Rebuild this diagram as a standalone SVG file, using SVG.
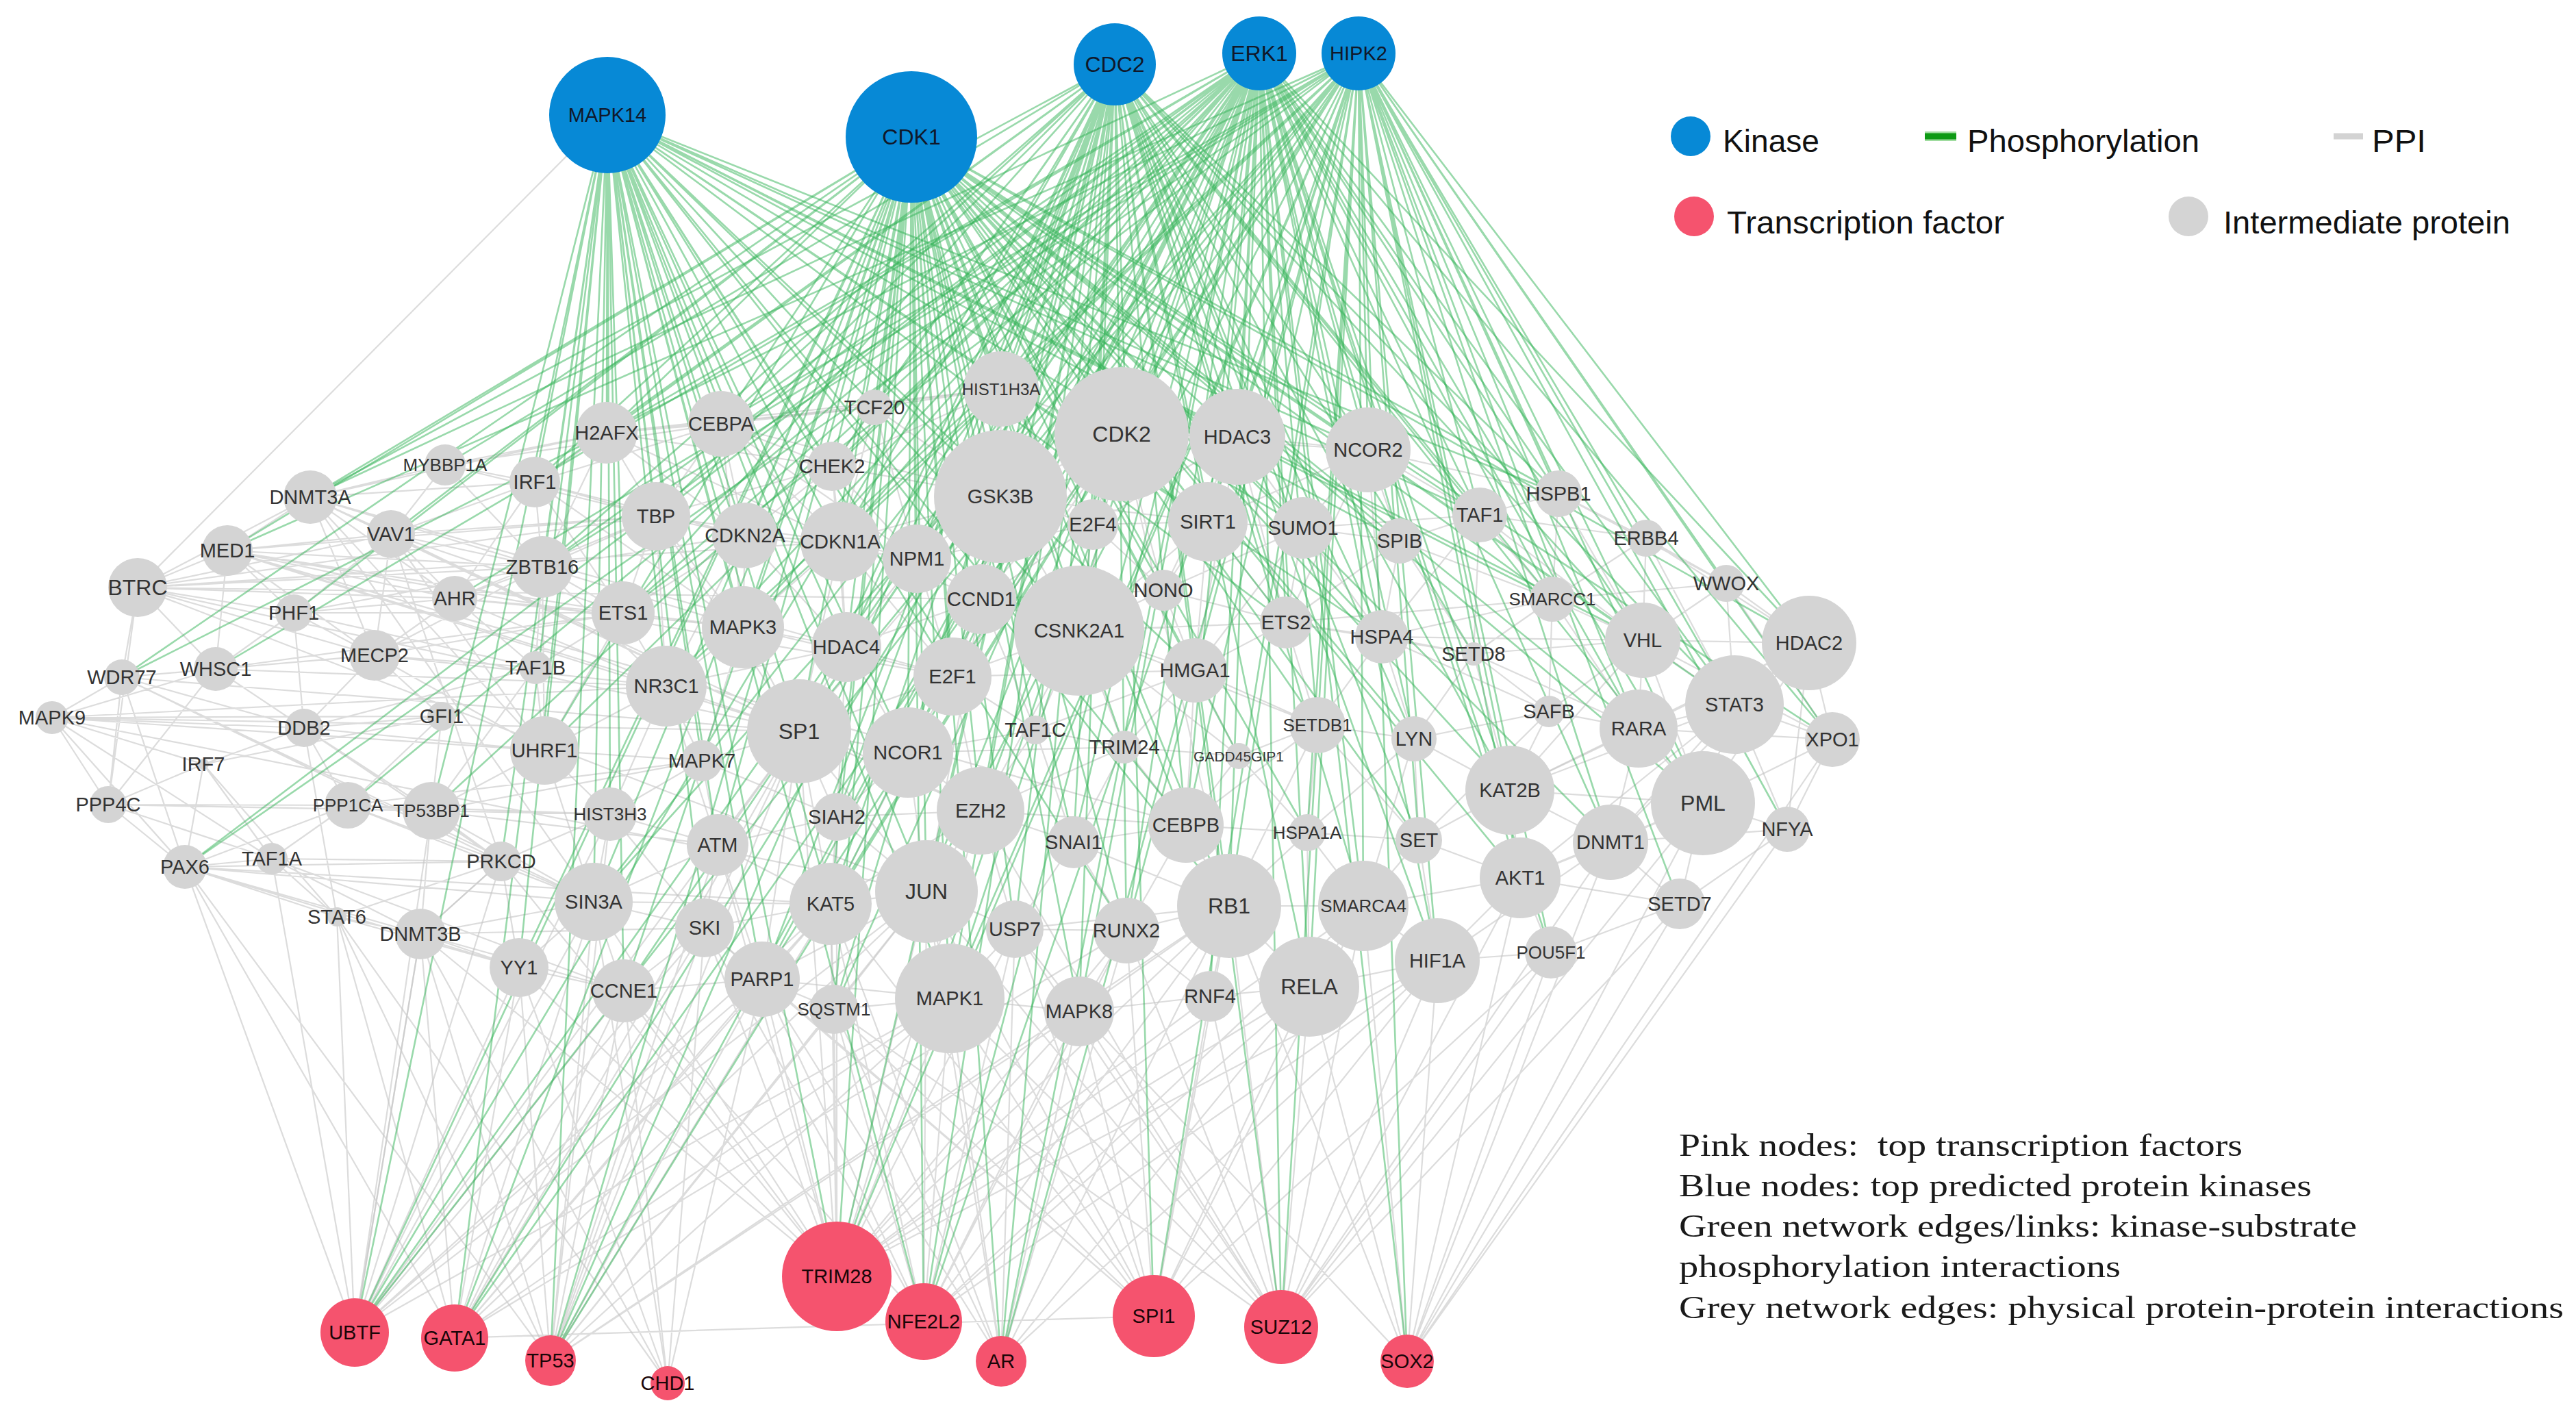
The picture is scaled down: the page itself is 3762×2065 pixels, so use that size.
<svg xmlns="http://www.w3.org/2000/svg" width="3762" height="2065" viewBox="0 0 3762 2065">
<style>
.pp{fill:none;stroke:#c4c4c4;stroke-opacity:.6;stroke-width:2.2}
.ph{fill:none;stroke:#33b357;stroke-opacity:.5;stroke-width:2.6}
#nodes text{font-family:"Liberation Sans",Arial,sans-serif;font-size:29px;text-anchor:middle;dominant-baseline:central;fill:#333}
.k circle{fill:#0789d6}.k text{fill:#10182a!important}
.t circle{fill:#f5536e}.t text{fill:#1a0508!important}
.i circle{fill:#d4d4d4}
#nodes .a{font-size:24px}#nodes .b{font-size:21px}#nodes .c{font-size:26px}#nodes .d{font-size:32px}
.lg{font-family:"Liberation Sans",Arial,sans-serif;font-size:47px;fill:#111}
.nt{font-family:"Liberation Serif","Times New Roman",serif;font-size:46px;fill:#1a1a1a;white-space:pre}
</style>
<rect width="3762" height="2065" fill="#fff"/>
<g id="connectors">
<path class="pp" d="M201 858L332 804M201 858L453 726M201 858L178 989M201 858L315 977M201 858L429 895M201 858L547 957M201 858L571 780M201 858L664 874M201 858L958 754M201 858L792 828M201 858L1227 791M201 858L1353 1302M201 858L1167 1068M201 858L1433 875M201 858L158 1175M201 858L887 168M332 804L453 726M332 804L571 780M332 804L429 895M332 804L315 977M332 804L547 957M332 804L664 874M332 804L792 828M332 804L973 1002M332 804L1167 1068M332 804L958 754M332 804L1391 988M332 804L910 895M332 804L1732 1205M453 726L650 679M453 726L571 780M453 726L781 704M453 726L664 874M453 726L792 828M453 726L547 957M453 726L886 632M453 726L1167 1068M453 726L1236 945M453 726L795 1096M453 726L1432 1184M453 726L867 1317M650 679L781 704M650 679L571 780M650 679L886 632M650 679L792 828M650 679L958 754M650 679L1053 619M571 780L664 874M571 780L792 828M571 780L429 895M571 780L547 957M571 780L781 704M571 780L910 895M571 780L958 754M571 780L1167 1068M571 780L795 1096M571 780L732 1258M429 895L547 957M429 895L315 977M429 895L664 874M429 895L792 828M429 895L444 1063M429 895L782 975M429 895L910 895M315 977L178 989M315 977L547 957M315 977L444 1063M315 977L76 1048M315 977L158 1175M315 977L973 1002M315 977L910 895M178 989L76 1048M178 989L158 1175M178 989L444 1063M178 989L547 957M178 989L270 1266M178 989L1167 1068M178 989L732 1258M178 989L867 1317M76 1048L444 1063M76 1048L158 1175M76 1048L645 1046M76 1048L973 1002M76 1048L297 1116M76 1048L270 1266M76 1048L397 1254M76 1048L1167 1068M76 1048L795 1096M76 1048L1353 1302M444 1063L645 1046M444 1063L297 1116M444 1063L547 957M444 1063L782 975M444 1063L795 1096M444 1063L508 1176M444 1063L630 1184M444 1063L732 1258M444 1063L492 1339M297 1116L158 1175M297 1116L270 1266M297 1116L397 1254M297 1116L645 1046M297 1116L492 1339M158 1175L270 1266M158 1175L508 1176M158 1175L397 1254M158 1175L630 1184M158 1175L891 1189M270 1266L397 1254M270 1266L508 1176M270 1266L732 1258M270 1266L492 1339M270 1266L614 1364M270 1266L867 1317M270 1266L758 1413M270 1266L1213 1320M270 1266L518 1946M270 1266L664 1954M270 1266L804 1987M397 1254L508 1176M397 1254L492 1339M397 1254L614 1364M397 1254L732 1258M397 1254L911 1447M397 1254L518 1946M492 1339L614 1364M492 1339L732 1258M492 1339L758 1413M492 1339L518 1946M492 1339L664 1954M492 1339L804 1987M492 1339L975 2020M614 1364L732 1258M614 1364L758 1413M614 1364L867 1317M614 1364L1029 1355M614 1364L911 1447M614 1364L630 1184M614 1364L518 1946M614 1364L664 1954M508 1176L630 1184M508 1176L645 1046M508 1176L732 1258M508 1176L891 1189M508 1176L867 1317M508 1176L1025 1111M630 1184L891 1189M630 1184L795 1096M630 1184L732 1258M630 1184L867 1317M630 1184L1048 1234M630 1184L645 1046M630 1184L1025 1111M630 1184L782 975M547 957L664 874M547 957L782 975M547 957L645 1046M547 957L795 1096M547 957L910 895M547 957L973 1002M547 957L792 828M664 874L792 828M664 874L782 975M664 874L910 895M664 874L781 704M664 874L958 754M664 874L973 1002M664 874L1085 916M781 704L792 828M781 704L886 632M781 704L958 754M781 704L910 895M781 704L1053 619M781 704L1088 782M781 704L1085 916M886 632L1053 619M886 632L958 754M886 632L792 828M886 632L1215 681M886 632L1277 595M886 632L1088 782M886 632L1227 791M886 632L1462 568M792 828L958 754M792 828L910 895M792 828L782 975M792 828L795 1096M792 828L973 1002M792 828L1085 916M792 828L1088 782M958 754L1053 619M958 754L1088 782M958 754L910 895M958 754L1085 916M958 754L1227 791M958 754L973 1002M958 754L1167 1068M958 754L1215 681"/>
<path class="pp" d="M1053 619L1215 681M1053 619L1277 595M1053 619L1088 782M1053 619L1227 791M1053 619L1462 568M1053 619L1339 816M1053 619L1085 916M1053 619L1461 725M1277 595L1215 681M1277 595L1462 568M1277 595L1227 791M1277 595L1461 725M1277 595L1339 816M1215 681L1227 791M1215 681L1462 568M1215 681L1461 725M1215 681L1339 816M1215 681L1088 782M1215 681L1236 945M1462 568L1461 725M1462 568L1638 634M1462 568L1596 766M1462 568L1339 816M1462 568L1433 875M1461 725L1638 634M1461 725L1596 766M1461 725L1433 875M1461 725L1339 816M1461 725L1227 791M1461 725L1576 921M1461 725L1807 638M1461 725L1764 762M1461 725L1391 988M1461 725L1353 1302M1461 725L1167 1068M1638 634L1807 638M1638 634L1764 762M1638 634L1596 766M1638 634L1576 921M1638 634L1699 862M1638 634L1433 875M1638 634L1998 657M1638 634L1391 988M1638 634L1795 1323M1807 638L1998 657M1807 638L1764 762M1807 638L1903 771M1807 638L1596 766M1807 638L1699 862M1807 638L1745 979M1807 638L1878 909M1998 657L1903 771M1998 657L2161 752M1998 657L2044 790M1998 657L2276 721M1998 657L1878 909M1998 657L2018 930M1998 657L1764 762M2161 752L2276 721M2161 752L2044 790M2161 752L2404 786M2161 752L2267 875M2161 752L1903 771M2161 752L2018 930M2161 752L2399 935M2161 752L2152 955M2276 721L2404 786M2276 721L2267 875M2276 721L2521 852M2276 721L2399 935M2404 786L2521 852M2404 786L2267 875M2404 786L2399 935M2404 786L2642 939M2404 786L2533 1029M2521 852L2642 939M2521 852L2399 935M2521 852L2533 1029M2521 852L2676 1080M2521 852L2267 875M2267 875L2399 935M2267 875L2018 930M2267 875L2152 955M2267 875L1878 909M2267 875L2044 790M2267 875L2262 1039M2267 875L2393 1064M2044 790L1903 771M2044 790L2018 930M2044 790L1878 909M2044 790L2152 955M1903 771L1764 762M1903 771L1878 909M1903 771L2018 930M1903 771L1745 979M1903 771L1699 862M1764 762L1596 766M1764 762L1699 862M1764 762L1745 979M1764 762L1878 909M1764 762L1576 921M1596 766L1339 816M1596 766L1433 875M1596 766L1576 921M1596 766L1699 862M1339 816L1227 791M1339 816L1433 875M1339 816L1088 782M1339 816L1236 945M1339 816L1391 988M1339 816L1576 921M1227 791L1088 782M1227 791L1236 945M1227 791L1085 916M1227 791L1433 875M1227 791L1391 988M1227 791L1167 1068M1088 782L1085 916M1088 782L1236 945M1088 782L910 895M1088 782L973 1002M1433 875L1576 921M1433 875L1391 988M1433 875L1236 945M1433 875L1699 862M1433 875L1512 1066M1576 921L1699 862M1576 921L1745 979M1576 921L1391 988M1576 921L1512 1066M1576 921L1642 1091M1576 921L1432 1184M1576 921L1878 909M1576 921L1924 1059M1576 921L1809 1104M1699 862L1745 979M1699 862L1878 909M910 895L1085 916M910 895L973 1002M910 895L782 975M910 895L795 1096M1085 916L1236 945M1085 916L973 1002M1085 916L1167 1068M1085 916L1025 1111M1085 916L1391 988M1878 909L2018 930M1878 909L1745 979M1878 909L2152 955M1878 909L1924 1059M2018 930L2152 955M2018 930L2399 935M2018 930L2262 1039M2018 930L2065 1079M2018 930L1924 1059M2399 935L2642 939M2399 935L2533 1029M2399 935L2393 1064M2399 935L2152 955M2399 935L2262 1039M2399 935L2205 1154M2399 935L2487 1173M2399 935L2676 1080M2642 939L2533 1029M2642 939L2676 1080M2642 939L2487 1173M2642 939L2393 1064M2642 939L2610 1211M2642 939L2205 1154M2642 939L2352 1230M2152 955L2262 1039M2152 955L2393 1064M2152 955L2065 1079M2152 955L2205 1154M1236 945L1391 988M1236 945L1167 1068M1236 945L1326 1099M1236 945L973 1002M1236 945L1222 1193M1391 988L1167 1068M1391 988L1326 1099M1391 988L1512 1066M1391 988L1432 1184M1391 988L1745 979M1745 979L1512 1066M1745 979L1642 1091M1745 979L1809 1104M1745 979L1924 1059M1745 979L1732 1205M973 1002L1167 1068M973 1002L795 1096M973 1002L1025 1111M973 1002L891 1189M973 1002L1048 1234M2533 1029L2393 1064M2533 1029L2676 1080M2533 1029L2487 1173M2533 1029L2205 1154M2533 1029L2610 1211M2533 1029L2352 1230M2533 1029L2220 1282M2262 1039L2393 1064M2262 1039L2065 1079M2262 1039L2205 1154M2262 1039L2072 1227"/>
<path class="pp" d="M1167 1068L1326 1099M1167 1068L1025 1111M1167 1068L1222 1193M1167 1068L1048 1234M1167 1068L1213 1320M1167 1068L1353 1302M1167 1068L1432 1184M1167 1068L1029 1355M1167 1068L1113 1430M1512 1066L1326 1099M1512 1066L1642 1091M1512 1066L1432 1184M1512 1066L1568 1230M2393 1064L2487 1173M2393 1064L2205 1154M2393 1064L2352 1230M2393 1064L2676 1080M2676 1080L2487 1173M2676 1080L2610 1211M1924 1059L2065 1079M1924 1059L1809 1104M1924 1059L1909 1216M1924 1059L1732 1205M1924 1059L1795 1323M1924 1059L2072 1227M2065 1079L2072 1227M2065 1079L2205 1154M2065 1079L1909 1216M2065 1079L1991 1323M1326 1099L1432 1184M1326 1099L1222 1193M1326 1099L1213 1320M1326 1099L1353 1302M1326 1099L1642 1091M1642 1091L1809 1104M1642 1091L1732 1205M1642 1091L1568 1230M1642 1091L1432 1184M1809 1104L1732 1205M1809 1104L1909 1216M795 1096L891 1189M795 1096L1025 1111M795 1096L867 1317M795 1096L782 975M1025 1111L891 1189M1025 1111L1048 1234M1025 1111L1222 1193M891 1189L1048 1234M891 1189L867 1317M891 1189L1029 1355M891 1189L732 1258M1222 1193L1432 1184M1222 1193L1048 1234M1222 1193L1213 1320M1222 1193L1353 1302M1432 1184L1568 1230M1432 1184L1353 1302M1432 1184L1482 1357M1432 1184L1213 1320M1432 1184L1732 1205M2205 1154L2487 1173M2205 1154L2352 1230M2205 1154L2220 1282M2205 1154L2072 1227M2487 1173L2610 1211M2487 1173L2352 1230M2487 1173L2220 1282M2487 1173L2453 1320M2610 1211L2352 1230M2610 1211L2453 1320M1732 1205L1568 1230M1732 1205L1795 1323M1732 1205L1645 1359M1732 1205L1909 1216M1048 1234L1029 1355M1048 1234L867 1317M1048 1234L1213 1320M1048 1234L1113 1430M1568 1230L1482 1357M1568 1230L1645 1359M1568 1230L1795 1323M1909 1216L2072 1227M1909 1216L1991 1323M1909 1216L1795 1323M1909 1216L1912 1441M2072 1227L2220 1282M2072 1227L1991 1323M2072 1227L2099 1403M2352 1230L2220 1282M2352 1230L2453 1320M2352 1230L2099 1403M732 1258L867 1317M732 1258L758 1413M732 1258L614 1364M2220 1282L2453 1320M2220 1282L2265 1391M2220 1282L2099 1403M2220 1282L1991 1323M867 1317L758 1413M867 1317L1029 1355M867 1317L911 1447M867 1317L1213 1320M1213 1320L1353 1302M1213 1320L1029 1355M1213 1320L1113 1430M1213 1320L1218 1474M1353 1302L1482 1357M1353 1302L1387 1458M1353 1302L1113 1430M1353 1302L1218 1474M1991 1323L1795 1323M1991 1323L1912 1441M1991 1323L2099 1403M1795 1323L1645 1359M1795 1323L1767 1455M1795 1323L1912 1441M1795 1323L1482 1357M1795 1323L1576 1477M1029 1355L911 1447M1029 1355L1113 1430M1482 1357L1645 1359M1482 1357L1387 1458M1482 1357L1576 1477M1645 1359L1576 1477M1645 1359L1767 1455M2453 1320L2265 1391M758 1413L911 1447M2099 1403L2265 1391M2099 1403L1912 1441M911 1447L1113 1430M1113 1430L1218 1474M1113 1430L1387 1458M1218 1474L1387 1458M1387 1458L1576 1477M1576 1477L1767 1455M1767 1455L1912 1441"/>
<path class="pp" d="M518 1946L758 1413M518 1946L911 1447M518 1946L867 1317M518 1946L614 1364M518 1946L891 1189M518 1946L1167 1068M518 1946L1353 1302M518 1946L1387 1458M518 1946L1113 1430M518 1946L1029 1355M518 1946L630 1184M518 1946L732 1258M518 1946L1213 1320M664 1954L758 1413M664 1954L911 1447M664 1954L867 1317M664 1954L1167 1068M664 1954L1353 1302M664 1954L1387 1458M664 1954L1029 1355M664 1954L1213 1320M664 1954L1685 1922M664 1954L1645 1359M664 1954L1113 1430M804 1987L758 1413M804 1987L911 1447M804 1987L867 1317M804 1987L1029 1355M804 1987L1113 1430M804 1987L1213 1320M804 1987L1353 1302M804 1987L1387 1458M804 1987L1218 1474M804 1987L614 1364M804 1987L891 1189M804 1987L1048 1234M804 1987L1167 1068M804 1987L1576 1477M804 1987L1795 1323M975 2020L911 1447M975 2020L1113 1430M975 2020L1029 1355M975 2020L867 1317M975 2020L758 1413M975 2020L614 1364M1222 1864L1353 1302M1222 1864L1387 1458M1222 1864L1213 1320M1222 1864L1113 1430M1222 1864L1218 1474M1222 1864L1029 1355M1222 1864L911 1447M1222 1864L758 1413M1222 1864L867 1317M1222 1864L1048 1234M1222 1864L1222 1193M1222 1864L1432 1184M1222 1864L1167 1068M1222 1864L1482 1357M1222 1864L1576 1477M1222 1864L1645 1359M1222 1864L1795 1323M1222 1864L1767 1455M1222 1864L1912 1441M1222 1864L1991 1323M1222 1864L2099 1403M1222 1864L614 1364M1222 1864L732 1258M1349 1930L1353 1302M1349 1930L1387 1458M1349 1930L1576 1477M1349 1930L1482 1357M1349 1930L1645 1359M1349 1930L1795 1323M1349 1930L1912 1441M1349 1930L1213 1320M1349 1930L1113 1430M1349 1930L1218 1474M1349 1930L1029 1355M1349 1930L911 1447M1349 1930L2099 1403M1349 1930L1991 1323M1462 1988L1387 1458M1462 1988L1353 1302M1462 1988L1576 1477M1462 1988L1482 1357M1462 1988L1645 1359M1462 1988L1795 1323M1462 1988L1912 1441M1462 1988L1113 1430M1462 1988L1218 1474M1462 1988L1213 1320M1462 1988L2099 1403M1685 1922L1795 1323M1685 1922L1912 1441M1685 1922L1767 1455M1685 1922L1576 1477M1685 1922L1645 1359M1685 1922L1482 1357M1685 1922L1353 1302M1685 1922L1387 1458M1685 1922L2099 1403M1685 1922L1991 1323M1685 1922L2265 1391M1685 1922L1113 1430M1685 1922L1218 1474M1685 1922L1213 1320M1685 1922L1029 1355M1871 1938L1795 1323M1871 1938L1912 1441M1871 1938L1767 1455M1871 1938L1576 1477M1871 1938L1645 1359M1871 1938L2099 1403M1871 1938L1991 1323M1871 1938L2265 1391M1871 1938L2220 1282M1871 1938L2453 1320M1871 1938L1353 1302M1871 1938L1387 1458M1871 1938L1218 1474M1871 1938L1482 1357M1871 1938L1432 1184M1871 1938L2487 1173M1871 1938L2352 1230M2055 1988L1912 1441M2055 1988L2099 1403M2055 1988L2265 1391M2055 1988L2453 1320M2055 1988L2220 1282M2055 1988L1991 1323M2055 1988L2487 1173M2055 1988L2610 1211M2055 1988L2352 1230M2055 1988L1795 1323M2055 1988L1576 1477M2055 1988L2676 1080"/>
<path class="ph" d="M887 168L886 632M887 168L781 704M887 168L792 828M887 168L958 754M887 168L910 895M887 168L795 1096M887 168L891 1189M887 168L867 1317M887 168L758 1413M887 168L911 1447M887 168L518 1946M887 168L664 1954M887 168L804 1987M887 168L1085 916M887 168L973 1002M887 168L1053 619M887 168L1088 782M887 168L1227 791M887 168L1167 1068M887 168L1048 1234M887 168L1029 1355M887 168L1213 1320M887 168L1353 1302M887 168L1113 1430M887 168L1236 945M887 168L1391 988M887 168L1326 1099M887 168L1215 681M887 168L1461 725M887 168L1576 921M887 168L1807 638M887 168L1998 657M887 168L2161 752M887 168L2276 721M887 168L2044 790M887 168L1903 771M887 168L1764 762M887 168L1745 979M887 168L1878 909M887 168L1732 1205M887 168L1795 1323M887 168L1645 1359M887 168L1387 1458M887 168L1222 1864M887 168L1349 1930M887 168L2267 875M887 168L2399 935M887 168L2018 930M887 168L1025 1111M887 168L732 1258M887 168L630 1184"/>
<path class="ph" d="M1331 200L453 726M1331 200L332 804M1331 200L571 780M1331 200L429 895M1331 200L178 989M1331 200L781 704M1331 200L886 632M1331 200L1053 619M1331 200L1277 595M1331 200L1215 681M1331 200L1462 568M1331 200L1461 725M1331 200L1227 791M1331 200L1088 782M1331 200L1339 816M1331 200L1433 875M1331 200L1596 766M1331 200L1391 988M1331 200L1236 945M1331 200L1085 916M1331 200L1167 1068M1331 200L1326 1099M1331 200L1432 1184M1331 200L1353 1302M1331 200L1213 1320M1331 200L1222 1193M1331 200L1048 1234M1331 200L1218 1474M1331 200L1387 1458M1331 200L1576 1477M1331 200L1482 1357M1331 200L1645 1359M1331 200L1795 1323M1331 200L1732 1205M1331 200L1568 1230M1331 200L1745 979M1331 200L1576 921M1331 200L1764 762M1331 200L1807 638M1331 200L1998 657M1331 200L1903 771M1331 200L2161 752M1331 200L2276 721M1331 200L2044 790M1331 200L1878 909M1331 200L2018 930M1331 200L2267 875M1331 200L2399 935M1331 200L2533 1029M1331 200L2642 939M1331 200L2487 1173M1331 200L2205 1154M1331 200L2220 1282M1331 200L2352 1230M1331 200L2393 1064M1331 200L2676 1080M1331 200L1222 1864M1331 200L1349 1930M1331 200L1462 1988M1331 200L518 1946M1331 200L664 1954M1331 200L804 1987M1331 200L911 1447M1331 200L758 1413M1331 200L867 1317M1331 200L795 1096M1331 200L1512 1066M1331 200L1642 1091M1331 200L1699 862M1331 200L1809 1104M1331 200L1924 1059M1331 200L2065 1079M1331 200L2072 1227M1331 200L1909 1216"/>
<path class="ph" d="M1628 94L453 726M1628 94L650 679M1628 94L781 704M1628 94L886 632M1628 94L1053 619M1628 94L958 754M1628 94L792 828M1628 94L910 895M1628 94L1277 595M1628 94L1215 681M1628 94L1462 568M1628 94L1461 725M1628 94L1227 791M1628 94L1339 816M1628 94L1596 766M1628 94L1391 988M1628 94L1433 875M1628 94L1236 945M1628 94L1167 1068M1628 94L1326 1099M1628 94L1432 1184M1628 94L1353 1302M1628 94L1222 1193M1628 94L1213 1320M1628 94L1387 1458M1628 94L1218 1474M1628 94L1113 1430M1628 94L1222 1864M1628 94L1462 1988M1628 94L1349 1930M1628 94L1482 1357M1628 94L1576 1477M1628 94L1645 1359M1628 94L1568 1230M1628 94L1732 1205M1628 94L1795 1323M1628 94L1807 638M1628 94L1764 762M1628 94L1998 657M1628 94L1903 771M1628 94L2161 752M1628 94L2276 721M1628 94L1878 909M1628 94L2018 930M1628 94L2267 875M1628 94L2399 935M1628 94L2533 1029M1628 94L2487 1173M1628 94L2205 1154M1628 94L2152 955M1628 94L2065 1079M1628 94L2072 1227M1628 94L1912 1441M1628 94L2099 1403M1628 94L1991 1323M1628 94L1685 1922M1628 94L1871 1938M1628 94L518 1946M1628 94L804 1987"/>
<path class="ph" d="M1839 78L453 726M1839 78L315 977M1839 78L270 1266M1839 78L508 1176M1839 78L886 632M1839 78L1053 619M1839 78L958 754M1839 78L792 828M1839 78L910 895M1839 78L1085 916M1839 78L973 1002M1839 78L795 1096M1839 78L630 1184M1839 78L867 1317M1839 78L911 1447M1839 78L518 1946M1839 78L664 1954M1839 78L804 1987M1839 78L1215 681M1839 78L1461 725M1839 78L1227 791M1839 78L1339 816M1839 78L1433 875M1839 78L1391 988M1839 78L1236 945M1839 78L1167 1068M1839 78L1326 1099M1839 78L1353 1302M1839 78L1387 1458M1839 78L1222 1864M1839 78L1349 1930M1839 78L1462 1988M1839 78L1432 1184M1839 78L1222 1193M1839 78L1213 1320M1839 78L1113 1430M1839 78L1218 1474M1839 78L1568 1230M1839 78L1576 1477M1839 78L1732 1205M1839 78L1645 1359M1839 78L1795 1323M1839 78L1767 1455M1839 78L1871 1938M1839 78L2055 1988M1839 78L1807 638M1839 78L1764 762M1839 78L1998 657M1839 78L2161 752M1839 78L2276 721M1839 78L2267 875M1839 78L2399 935M1839 78L2533 1029M1839 78L2642 939M1839 78L2676 1080M1839 78L2487 1173M1839 78L2205 1154M1839 78L2220 1282M1839 78L2393 1064M1839 78L2352 1230M1839 78L2018 930M1839 78L1878 909M1839 78L2044 790M1839 78L1924 1059M1839 78L2065 1079M1839 78L2099 1403M1839 78L2265 1391M1839 78L1912 1441M1839 78L1991 1323"/>
<path class="ph" d="M1984 78L178 989M1984 78L332 804M1984 78L664 874M1984 78L270 1266M1984 78L886 632M1984 78L1053 619M1984 78L792 828M1984 78L910 895M1984 78L1085 916M1984 78L973 1002M1984 78L867 1317M1984 78L664 1954M1984 78L804 1987M1984 78L518 1946M1984 78L1227 791M1984 78L1339 816M1984 78L1391 988M1984 78L1167 1068M1984 78L1353 1302M1984 78L1387 1458M1984 78L1222 1864M1984 78L1349 1930M1984 78L1462 1988M1984 78L1213 1320M1984 78L1113 1430M1984 78L1732 1205M1984 78L1795 1323M1984 78L1645 1359M1984 78L1685 1922M1984 78L1871 1938M1984 78L2055 1988M1984 78L1807 638M1984 78L1764 762M1984 78L1998 657M1984 78L2161 752M1984 78L2276 721M1984 78L2404 786M1984 78L2521 852M1984 78L2267 875M1984 78L2399 935M1984 78L2642 939M1984 78L2533 1029M1984 78L2676 1080M1984 78L2610 1211M1984 78L2487 1173M1984 78L2393 1064M1984 78L2352 1230M1984 78L2205 1154M1984 78L2220 1282M1984 78L2453 1320M1984 78L2072 1227M1984 78L1909 1216M1984 78L1991 1323M1984 78L2099 1403M1984 78L2265 1391M1984 78L1912 1441"/>
</g>
<g id="nodes">
<g id="MAPK14" class="k"><circle cx="887" cy="168" r="85"/><text x="887" y="168">MAPK14</text></g>
<g id="CDK1" class="k"><circle cx="1331" cy="200" r="96"/><text class="d" x="1331" y="200">CDK1</text></g>
<g id="CDC2" class="k"><circle cx="1628" cy="94" r="60"/><text class="d" x="1628" y="94">CDC2</text></g>
<g id="ERK1" class="k"><circle cx="1839" cy="78" r="54"/><text class="d" x="1839" y="78">ERK1</text></g>
<g id="HIPK2" class="k"><circle cx="1984" cy="78" r="54"/><text x="1984" y="78">HIPK2</text></g>
<g id="HIST1H3A" class="i"><circle cx="1462" cy="568" r="55"/><text class="a" x="1462" y="568">HIST1H3A</text></g>
<g id="TCF20" class="i"><circle cx="1277" cy="595" r="26"/><text x="1277" y="595">TCF20</text></g>
<g id="CDK2" class="i"><circle cx="1638" cy="634" r="98"/><text class="d" x="1638" y="634">CDK2</text></g>
<g id="HDAC3" class="i"><circle cx="1807" cy="638" r="70"/><text x="1807" y="638">HDAC3</text></g>
<g id="NCOR2" class="i"><circle cx="1998" cy="657" r="62"/><text x="1998" y="657">NCOR2</text></g>
<g id="H2AFX" class="i"><circle cx="886" cy="632" r="45"/><text x="886" y="632">H2AFX</text></g>
<g id="CEBPA" class="i"><circle cx="1053" cy="619" r="48"/><text x="1053" y="619">CEBPA</text></g>
<g id="CHEK2" class="i"><circle cx="1215" cy="681" r="36"/><text x="1215" y="681">CHEK2</text></g>
<g id="MYBBP1A" class="i"><circle cx="650" cy="679" r="30"/><text class="c" x="650" y="679">MYBBP1A</text></g>
<g id="DNMT3A" class="i"><circle cx="453" cy="726" r="39"/><text x="453" y="726">DNMT3A</text></g>
<g id="IRF1" class="i"><circle cx="781" cy="704" r="37"/><text x="781" y="704">IRF1</text></g>
<g id="GSK3B" class="i"><circle cx="1461" cy="725" r="97"/><text x="1461" y="725">GSK3B</text></g>
<g id="HSPB1" class="i"><circle cx="2276" cy="721" r="34"/><text x="2276" y="721">HSPB1</text></g>
<g id="TAF1" class="i"><circle cx="2161" cy="752" r="40"/><text x="2161" y="752">TAF1</text></g>
<g id="SIRT1" class="i"><circle cx="1764" cy="762" r="58"/><text x="1764" y="762">SIRT1</text></g>
<g id="SUMO1" class="i"><circle cx="1903" cy="771" r="45"/><text x="1903" y="771">SUMO1</text></g>
<g id="E2F4" class="i"><circle cx="1596" cy="766" r="37"/><text x="1596" y="766">E2F4</text></g>
<g id="SPIB" class="i"><circle cx="2044" cy="790" r="33"/><text x="2044" y="790">SPIB</text></g>
<g id="ERBB4" class="i"><circle cx="2404" cy="786" r="27"/><text x="2404" y="786">ERBB4</text></g>
<g id="TBP" class="i"><circle cx="958" cy="754" r="50"/><text x="958" y="754">TBP</text></g>
<g id="CDKN2A" class="i"><circle cx="1088" cy="782" r="48"/><text x="1088" y="782">CDKN2A</text></g>
<g id="CDKN1A" class="i"><circle cx="1227" cy="791" r="58"/><text x="1227" y="791">CDKN1A</text></g>
<g id="NPM1" class="i"><circle cx="1339" cy="816" r="50"/><text x="1339" y="816">NPM1</text></g>
<g id="VAV1" class="i"><circle cx="571" cy="780" r="35"/><text x="571" y="780">VAV1</text></g>
<g id="MED1" class="i"><circle cx="332" cy="804" r="37"/><text x="332" y="804">MED1</text></g>
<g id="ZBTB16" class="i"><circle cx="792" cy="828" r="45"/><text x="792" y="828">ZBTB16</text></g>
<g id="BTRC" class="i"><circle cx="201" cy="858" r="43"/><text class="d" x="201" y="858">BTRC</text></g>
<g id="WWOX" class="i"><circle cx="2521" cy="852" r="27"/><text x="2521" y="852">WWOX</text></g>
<g id="CCND1" class="i"><circle cx="1433" cy="875" r="51"/><text x="1433" y="875">CCND1</text></g>
<g id="NONO" class="i"><circle cx="1699" cy="862" r="30"/><text x="1699" y="862">NONO</text></g>
<g id="SMARCC1" class="i"><circle cx="2267" cy="875" r="33"/><text class="c" x="2267" y="875">SMARCC1</text></g>
<g id="CSNK2A1" class="i"><circle cx="1576" cy="921" r="95"/><text x="1576" y="921">CSNK2A1</text></g>
<g id="AHR" class="i"><circle cx="664" cy="874" r="33"/><text x="664" y="874">AHR</text></g>
<g id="PHF1" class="i"><circle cx="429" cy="895" r="27"/><text x="429" y="895">PHF1</text></g>
<g id="ETS1" class="i"><circle cx="910" cy="895" r="46"/><text x="910" y="895">ETS1</text></g>
<g id="MAPK3" class="i"><circle cx="1085" cy="916" r="60"/><text x="1085" y="916">MAPK3</text></g>
<g id="ETS2" class="i"><circle cx="1878" cy="909" r="38"/><text x="1878" y="909">ETS2</text></g>
<g id="HSPA4" class="i"><circle cx="2018" cy="930" r="39"/><text x="2018" y="930">HSPA4</text></g>
<g id="VHL" class="i"><circle cx="2399" cy="935" r="55"/><text x="2399" y="935">VHL</text></g>
<g id="HDAC2" class="i"><circle cx="2642" cy="939" r="69"/><text x="2642" y="939">HDAC2</text></g>
<g id="SETD8" class="i"><circle cx="2152" cy="955" r="17"/><text x="2152" y="955">SETD8</text></g>
<g id="MECP2" class="i"><circle cx="547" cy="957" r="37"/><text x="547" y="957">MECP2</text></g>
<g id="HDAC4" class="i"><circle cx="1236" cy="945" r="51"/><text x="1236" y="945">HDAC4</text></g>
<g id="WDR77" class="i"><circle cx="178" cy="989" r="26"/><text x="178" y="989">WDR77</text></g>
<g id="WHSC1" class="i"><circle cx="315" cy="977" r="32"/><text x="315" y="977">WHSC1</text></g>
<g id="TAF1B" class="i"><circle cx="782" cy="975" r="24"/><text x="782" y="975">TAF1B</text></g>
<g id="E2F1" class="i"><circle cx="1391" cy="988" r="57"/><text x="1391" y="988">E2F1</text></g>
<g id="HMGA1" class="i"><circle cx="1745" cy="979" r="47"/><text x="1745" y="979">HMGA1</text></g>
<g id="NR3C1" class="i"><circle cx="973" cy="1002" r="59"/><text x="973" y="1002">NR3C1</text></g>
<g id="STAT3" class="i"><circle cx="2533" cy="1029" r="72"/><text x="2533" y="1029">STAT3</text></g>
<g id="SAFB" class="i"><circle cx="2262" cy="1039" r="23"/><text x="2262" y="1039">SAFB</text></g>
<g id="MAPK9" class="i"><circle cx="76" cy="1048" r="24"/><text x="76" y="1048">MAPK9</text></g>
<g id="DDB2" class="i"><circle cx="444" cy="1063" r="28"/><text x="444" y="1063">DDB2</text></g>
<g id="GFI1" class="i"><circle cx="645" cy="1046" r="21"/><text x="645" y="1046">GFI1</text></g>
<g id="SP1" class="i"><circle cx="1167" cy="1068" r="76"/><text class="d" x="1167" y="1068">SP1</text></g>
<g id="TAF1C" class="i"><circle cx="1512" cy="1066" r="21"/><text x="1512" y="1066">TAF1C</text></g>
<g id="RARA" class="i"><circle cx="2393" cy="1064" r="57"/><text x="2393" y="1064">RARA</text></g>
<g id="XPO1" class="i"><circle cx="2676" cy="1080" r="40"/><text x="2676" y="1080">XPO1</text></g>
<g id="SETDB1" class="i"><circle cx="1924" cy="1059" r="41"/><text class="c" x="1924" y="1059">SETDB1</text></g>
<g id="LYN" class="i"><circle cx="2065" cy="1079" r="33"/><text x="2065" y="1079">LYN</text></g>
<g id="NCOR1" class="i"><circle cx="1326" cy="1099" r="66"/><text x="1326" y="1099">NCOR1</text></g>
<g id="TRIM24" class="i"><circle cx="1642" cy="1091" r="24"/><text x="1642" y="1091">TRIM24</text></g>
<g id="GADD45GIP1" class="i"><circle cx="1809" cy="1104" r="19"/><text class="b" x="1809" y="1104">GADD45GIP1</text></g>
<g id="UHRF1" class="i"><circle cx="795" cy="1096" r="50"/><text x="795" y="1096">UHRF1</text></g>
<g id="MAPK7" class="i"><circle cx="1025" cy="1111" r="30"/><text x="1025" y="1111">MAPK7</text></g>
<g id="IRF7" class="i"><circle cx="297" cy="1116" r="8"/><text x="297" y="1116">IRF7</text></g>
<g id="PPP4C" class="i"><circle cx="158" cy="1175" r="27"/><text x="158" y="1175">PPP4C</text></g>
<g id="PPP1CA" class="i"><circle cx="508" cy="1176" r="34"/><text class="c" x="508" y="1176">PPP1CA</text></g>
<g id="TP53BP1" class="i"><circle cx="630" cy="1184" r="42"/><text class="c" x="630" y="1184">TP53BP1</text></g>
<g id="HIST3H3" class="i"><circle cx="891" cy="1189" r="39"/><text class="c" x="891" y="1189">HIST3H3</text></g>
<g id="SIAH2" class="i"><circle cx="1222" cy="1193" r="35"/><text x="1222" y="1193">SIAH2</text></g>
<g id="EZH2" class="i"><circle cx="1432" cy="1184" r="64"/><text x="1432" y="1184">EZH2</text></g>
<g id="KAT2B" class="i"><circle cx="2205" cy="1154" r="65"/><text x="2205" y="1154">KAT2B</text></g>
<g id="PML" class="i"><circle cx="2487" cy="1173" r="76"/><text class="d" x="2487" y="1173">PML</text></g>
<g id="NFYA" class="i"><circle cx="2610" cy="1211" r="33"/><text x="2610" y="1211">NFYA</text></g>
<g id="CEBPB" class="i"><circle cx="1732" cy="1205" r="55"/><text x="1732" y="1205">CEBPB</text></g>
<g id="ATM" class="i"><circle cx="1048" cy="1234" r="45"/><text x="1048" y="1234">ATM</text></g>
<g id="SNAI1" class="i"><circle cx="1568" cy="1230" r="38"/><text x="1568" y="1230">SNAI1</text></g>
<g id="HSPA1A" class="i"><circle cx="1909" cy="1216" r="27"/><text class="c" x="1909" y="1216">HSPA1A</text></g>
<g id="SET" class="i"><circle cx="2072" cy="1227" r="34"/><text x="2072" y="1227">SET</text></g>
<g id="DNMT1" class="i"><circle cx="2352" cy="1230" r="55"/><text x="2352" y="1230">DNMT1</text></g>
<g id="PAX6" class="i"><circle cx="270" cy="1266" r="32"/><text x="270" y="1266">PAX6</text></g>
<g id="TAF1A" class="i"><circle cx="397" cy="1254" r="23"/><text x="397" y="1254">TAF1A</text></g>
<g id="PRKCD" class="i"><circle cx="732" cy="1258" r="29"/><text x="732" y="1258">PRKCD</text></g>
<g id="AKT1" class="i"><circle cx="2220" cy="1282" r="59"/><text x="2220" y="1282">AKT1</text></g>
<g id="SIN3A" class="i"><circle cx="867" cy="1317" r="57"/><text x="867" y="1317">SIN3A</text></g>
<g id="KAT5" class="i"><circle cx="1213" cy="1320" r="60"/><text x="1213" y="1320">KAT5</text></g>
<g id="JUN" class="i"><circle cx="1353" cy="1302" r="75"/><text class="d" x="1353" y="1302">JUN</text></g>
<g id="SMARCA4" class="i"><circle cx="1991" cy="1323" r="66"/><text class="c" x="1991" y="1323">SMARCA4</text></g>
<g id="RB1" class="i"><circle cx="1795" cy="1323" r="76"/><text class="d" x="1795" y="1323">RB1</text></g>
<g id="STAT6" class="i"><circle cx="492" cy="1339" r="14"/><text x="492" y="1339">STAT6</text></g>
<g id="DNMT3B" class="i"><circle cx="614" cy="1364" r="37"/><text x="614" y="1364">DNMT3B</text></g>
<g id="SKI" class="i"><circle cx="1029" cy="1355" r="43"/><text x="1029" y="1355">SKI</text></g>
<g id="USP7" class="i"><circle cx="1482" cy="1357" r="42"/><text x="1482" y="1357">USP7</text></g>
<g id="RUNX2" class="i"><circle cx="1645" cy="1359" r="48"/><text x="1645" y="1359">RUNX2</text></g>
<g id="SETD7" class="i"><circle cx="2453" cy="1320" r="37"/><text x="2453" y="1320">SETD7</text></g>
<g id="YY1" class="i"><circle cx="758" cy="1413" r="43"/><text x="758" y="1413">YY1</text></g>
<g id="HIF1A" class="i"><circle cx="2099" cy="1403" r="62"/><text x="2099" y="1403">HIF1A</text></g>
<g id="POU5F1" class="i"><circle cx="2265" cy="1391" r="38"/><text class="c" x="2265" y="1391">POU5F1</text></g>
<g id="CCNE1" class="i"><circle cx="911" cy="1447" r="46"/><text x="911" y="1447">CCNE1</text></g>
<g id="PARP1" class="i"><circle cx="1113" cy="1430" r="55"/><text x="1113" y="1430">PARP1</text></g>
<g id="SQSTM1" class="i"><circle cx="1218" cy="1474" r="36"/><text class="c" x="1218" y="1474">SQSTM1</text></g>
<g id="MAPK1" class="i"><circle cx="1387" cy="1458" r="80"/><text x="1387" y="1458">MAPK1</text></g>
<g id="MAPK8" class="i"><circle cx="1576" cy="1477" r="51"/><text x="1576" y="1477">MAPK8</text></g>
<g id="RNF4" class="i"><circle cx="1767" cy="1455" r="37"/><text x="1767" y="1455">RNF4</text></g>
<g id="RELA" class="i"><circle cx="1912" cy="1441" r="73"/><text class="d" x="1912" y="1441">RELA</text></g>
<g id="UBTF" class="t"><circle cx="518" cy="1946" r="50"/><text x="518" y="1946">UBTF</text></g>
<g id="GATA1" class="t"><circle cx="664" cy="1954" r="49"/><text x="664" y="1954">GATA1</text></g>
<g id="TP53" class="t"><circle cx="804" cy="1987" r="37"/><text x="804" y="1987">TP53</text></g>
<g id="CHD1" class="t"><circle cx="975" cy="2020" r="25"/><text x="975" y="2020">CHD1</text></g>
<g id="TRIM28" class="t"><circle cx="1222" cy="1864" r="80"/><text x="1222" y="1864">TRIM28</text></g>
<g id="NFE2L2" class="t"><circle cx="1349" cy="1930" r="56"/><text x="1349" y="1930">NFE2L2</text></g>
<g id="AR" class="t"><circle cx="1462" cy="1988" r="37"/><text x="1462" y="1988">AR</text></g>
<g id="SPI1" class="t"><circle cx="1685" cy="1922" r="60"/><text x="1685" y="1922">SPI1</text></g>
<g id="SUZ12" class="t"><circle cx="1871" cy="1938" r="54"/><text x="1871" y="1938">SUZ12</text></g>
<g id="SOX2" class="t"><circle cx="2055" cy="1988" r="39"/><text x="2055" y="1988">SOX2</text></g>
</g>
<g id="legend">
<circle cx="2469" cy="199" r="29" fill="#0789d6"/>
<text class="lg" x="2516" y="222" textLength="141" lengthAdjust="spacingAndGlyphs">Kinase</text>
<line x1="2811" y1="199" x2="2857" y2="199" stroke="#9fdc9f" stroke-width="14"/>
<line x1="2811" y1="199" x2="2857" y2="199" stroke="#0d9a14" stroke-width="9"/>
<text class="lg" x="2873" y="222" textLength="339" lengthAdjust="spacingAndGlyphs">Phosphorylation</text>
<line x1="3408" y1="199" x2="3451" y2="199" stroke="#d3d3d3" stroke-width="9"/>
<text class="lg" x="3464" y="222" textLength="79" lengthAdjust="spacingAndGlyphs">PPI</text>
<circle cx="2474" cy="316" r="29" fill="#f5536e"/>
<text class="lg" x="2522" y="341" textLength="405" lengthAdjust="spacingAndGlyphs">Transcription factor</text>
<circle cx="3196" cy="316" r="29" fill="#d4d4d4"/>
<text class="lg" x="3247" y="341" textLength="419" lengthAdjust="spacingAndGlyphs">Intermediate protein</text>
</g>
<g id="notes">
<text class="nt" x="2452" y="1688" textLength="823" lengthAdjust="spacingAndGlyphs">Pink nodes:  top transcription factors</text>
<text class="nt" x="2452" y="1747" textLength="924" lengthAdjust="spacingAndGlyphs">Blue nodes: top predicted protein kinases</text>
<text class="nt" x="2452" y="1806" textLength="990" lengthAdjust="spacingAndGlyphs">Green network edges/links: kinase-substrate</text>
<text class="nt" x="2452" y="1865" textLength="645" lengthAdjust="spacingAndGlyphs">phosphorylation interactions</text>
<text class="nt" x="2452" y="1925" textLength="1292" lengthAdjust="spacingAndGlyphs">Grey network edges: physical protein-protein interactions</text>
</g>
</svg>
